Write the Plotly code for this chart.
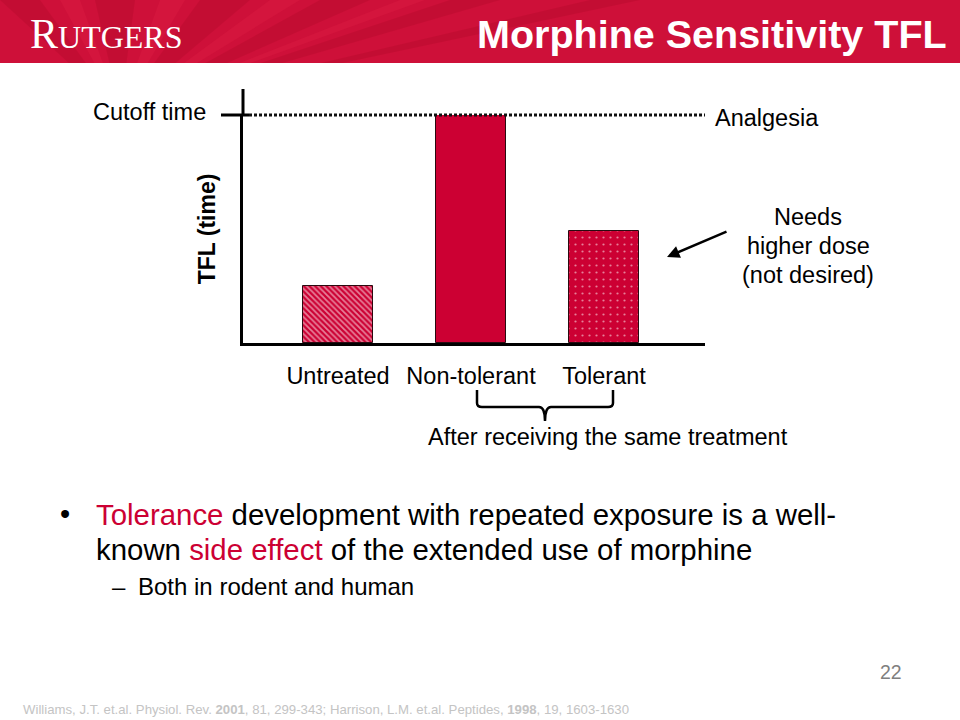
import plotly.graph_objects as go

categories = ["Untreated", "Non-tolerant", "Tolerant"]
tfl_values = [2.5, 10.0, 4.9]
cutoff_value = 10.0

RED = "#CC0033"
FONT = "Liberation Sans, Arial, sans-serif"

# plot area in pixels
L, R, T, B = 243, 705, 115, 343
W, H = R - L, B - T


def X(px):
    return (px - L) / W


def Y(py):
    return (B - py) / H


fig = go.Figure()

patterns = [
    dict(shape="\\", fgcolor="white", bgcolor=RED, size=4, solidity=0.45),
    dict(shape="", fgcolor="white", bgcolor=RED),
    dict(shape=".", fgcolor="white", bgcolor=RED, size=7, solidity=0.08),
]
for i, (c, v) in enumerate(zip(categories, tfl_values)):
    fig.add_trace(go.Bar(
        x=[i], y=[v], width=0.526,
        marker=dict(color=RED, line=dict(color="#2a0a10", width=1), pattern=patterns[i]),
        showlegend=False, hoverinfo="skip",
    ))

# cutoff level expressed as a fraction of the y-axis range (the axis starts at 0)
yrange = [0, cutoff_value]
cut_frac = (cutoff_value - yrange[0]) / (yrange[1] - yrange[0])

shapes = []
# header band
shapes.append(dict(type="rect", xref="paper", yref="paper", x0=X(0), x1=X(960), y0=Y(63), y1=Y(0),
                   fillcolor="#CE1039", line=dict(width=0), layer="below"))
# faint sunburst rays
cx, cy = 120, 110
for (a, b) in [(0, 40), (95, 135), (200, 250), (320, 370), (450, 500), (590, 640)]:
    shapes.append(dict(type="path", xref="paper", yref="paper",
                       path=f"M {X(cx)} {Y(cy)} L {X(a)} {Y(0)} L {X(b)} {Y(0)} Z",
                       fillcolor="rgba(150,0,30,0.18)", line=dict(width=0), layer="below"))
for (a, b) in [(60, 80), (160, 185), (270, 300), (400, 425)]:
    shapes.append(dict(type="path", xref="paper", yref="paper",
                       path=f"M {X(cx)} {Y(cy)} L {X(a)} {Y(0)} L {X(b)} {Y(0)} Z",
                       fillcolor="rgba(255,60,90,0.12)", line=dict(width=0), layer="below"))
# white cover below header for rays
shapes.append(dict(type="rect", xref="paper", yref="paper", x0=X(0), x1=X(960), y0=Y(140), y1=Y(63),
                   fillcolor="white", line=dict(width=0), layer="below"))
# cutoff dotted line (paper-referenced so it is not clipped at the plot top)
shapes.append(dict(type="line", xref="paper", yref="paper", x0=X(249), x1=1, y0=cut_frac, y1=cut_frac,
                   line=dict(color="#111111", width=3, dash="3px,2px")))
# cutoff tick crossing the axis
shapes.append(dict(type="line", xref="paper", yref="paper", x0=X(221), x1=X(249), y0=cut_frac, y1=cut_frac,
                   line=dict(color="black", width=3)))
# y axis extension above the cutoff
shapes.append(dict(type="line", xref="paper", yref="paper", x0=0, x1=0, y0=Y(116), y1=Y(89),
                   line=dict(color="black", width=3)))
# brace
bx0, bx1, bm = 477, 613, 545
by0, by1, btip = 390, 407, 421
path = (f"M {X(bx0)} {Y(by0)} L {X(bx0)} {Y(by1-4)} Q {X(bx0)} {Y(by1)} {X(bx0+5)} {Y(by1)} "
        f"L {X(bm-6)} {Y(by1)} Q {X(bm)} {Y(by1)} {X(bm)} {Y(btip)} "
        f"Q {X(bm)} {Y(by1)} {X(bm+6)} {Y(by1)} L {X(bx1-5)} {Y(by1)} "
        f"Q {X(bx1)} {Y(by1)} {X(bx1)} {Y(by1-4)} L {X(bx1)} {Y(by0)}")
shapes.append(dict(type="path", xref="paper", yref="paper", path=path,
                   line=dict(color="black", width=2.5)))

ann = []


def text(px, py, s, size=23.5, color="black", xanchor="left", bold=False, align="left", family=FONT):
    ann.append(dict(x=X(px), y=Y(py), xref="paper", yref="paper", text=(f"<b>{s}</b>" if bold else s),
                    showarrow=False, xanchor=xanchor, yanchor="middle", align=align,
                    font=dict(size=size, color=color, family=family)))


# header texts
text(28, 34, "<span style='font-size:42px'>R</span>UTGERS", size=32, color="white",
     family="Liberation Serif, Times New Roman, serif")
ann.append(dict(x=X(949), y=Y(34), xref="paper", yref="paper", text="<b>Morphine Sensitivity TFL</b>",
                showarrow=False, xanchor="right", yanchor="middle",
                font=dict(size=39.5, color="white", family=FONT)))

text(149, 112, "Cutoff time", xanchor="center")
text(767, 118, "Analgesia", xanchor="center")
text(808, 217, "Needs", xanchor="center")
text(808, 246, "higher dose", xanchor="center")
text(808, 275, "(not desired)", xanchor="center")
text(608, 437, "After receiving the same treatment", size=23.5, xanchor="center")

# arrow
ann.append(dict(x=X(667), y=Y(257), xref="paper", yref="paper", ax=61, ay=-26, text="",
                showarrow=True, arrowhead=2, arrowsize=1, arrowwidth=2.5, arrowcolor="black"))

# bullets
text(58, 514, "•", size=29)
text(94, 514, f"<span style='color:{RED}'>Tolerance</span> development with repeated exposure is a well-", size=29.4)
text(94, 549, f"known <span style='color:{RED}'>side effect</span> of the extended use of morphine", size=29.4)
text(110, 586, "–", size=24)
text(136, 586, "Both in rodent and human", size=24)

# page number and citation
text(891, 672, "22", size=19.5, color="#7f7f7f", xanchor="center")
text(21, 709, "Williams, J.T. et.al. Physiol. Rev. <b>2001</b>, 81, 299-343; Harrison, L.M. et.al. Peptides, "
     "<b>1998</b>, 19, 1603-1630", size=13.2, color="#c4c4c4")

fig.update_layout(
    width=960, height=720,
    margin=dict(l=L, r=960 - R, t=T, b=720 - B, pad=0),
    paper_bgcolor="white", plot_bgcolor="white",
    shapes=shapes, annotations=ann,
    bargap=0,
    xaxis=dict(range=[-0.714, 2.759], tickmode="array", tickvals=[0, 1, 2], ticktext=categories,
               tickfont=dict(size=23.5, color="black", family=FONT), ticks="", showgrid=False,
               zeroline=False, showline=True, linecolor="black", linewidth=3,
               ticklabelstandoff=10, automargin=False, fixedrange=True),
    yaxis=dict(range=yrange, showticklabels=False, ticks="", showgrid=False, zeroline=False,
               showline=True, linecolor="black", linewidth=3,
               title=dict(text="<b>TFL (time)</b>", font=dict(size=23, color="black", family=FONT), standoff=18),
               automargin=False, fixedrange=True),
)

fig.write_html("out.html", config={"displayModeBar": False})

# remove the default page margin so the figure fills the window exactly
with open("out.html", "r", encoding="utf-8") as f:
    html = f.read()
html = html.replace("<head>", "<head><style>html,body{margin:0;padding:0;overflow:hidden;}</style>", 1)
with open("out.html", "w", encoding="utf-8") as f:
    f.write(html)
